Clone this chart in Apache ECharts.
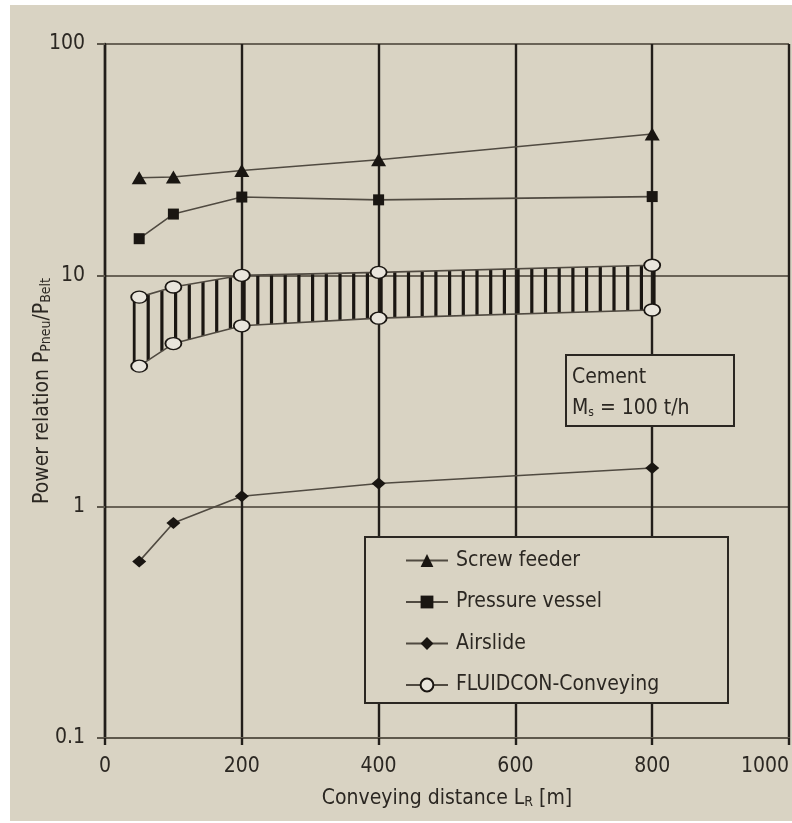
<!DOCTYPE html>
<html>
<head>
<meta charset="utf-8">
<script src="https://cdn.jsdelivr.net/npm/echarts@6/dist/echarts.min.js"></script>
<style>
  html, body { margin: 0; padding: 0; background: #ffffff; }
  #chart { width: 792px; height: 823px; }
</style>
</head>
<body>
<div id="chart"></div>
<script>
// conveying distance [m]
const distances = [50, 100, 200, 400, 800];
const screwFeeder = [26.4, 26.6, 28.4, 31.6, 40.8];
const pressureVessel = [14.4, 18.4, 21.8, 21.2, 21.9];
const airslide = [0.58, 0.85, 1.11, 1.26, 1.47];
const fluidconUpper = [8.05, 8.9, 10.0, 10.3, 11.05];
const fluidconLower = [4.05, 5.07, 6.05, 6.53, 7.08];
const xTicks = [0, 200, 400, 600, 800, 1000];
const yTicks = ['0.1', '1', '10', '100'];

const FONT = "'DejaVu Sans Condensed', 'Liberation Sans Narrow', 'Liberation Sans', sans-serif";
const INK = '#2b2722';
const BG = '#d9d3c3';
const LINE = '#504a41';

function pairs(xs, ys) {
    const out = [];
    for (let i = 0; i < xs.length; i++) out.push([xs[i], ys[i]]);
    return out;
}

// one row per segment of the FLUIDCON band
const bandRows = [];
for (let i = 0; i < distances.length - 1; i++) {
    bandRows.push([distances[i], fluidconUpper[i], fluidconLower[i],
                   distances[i + 1], fluidconUpper[i + 1], fluidconLower[i + 1], i]);
}

const myChart = echarts.init(document.getElementById('chart'));

function renderHatch(params, api) {
    const a1 = api.coord([api.value(0), api.value(1)]);
    const a2 = api.coord([api.value(0), api.value(2)]);
    const b1 = api.coord([api.value(3), api.value(4)]);
    const b2 = api.coord([api.value(3), api.value(5)]);
    const idx = api.value(6);
    const start = api.coord([distances[0], fluidconUpper[0]])[0] + 9;
    const step = 13.7;
    const last = idx === distances.length - 2;
    const children = [];
    let k = Math.ceil((a1[0] - start) / step - 1e-6);
    if (k < 0) k = 0;
    for (;; k++) {
        const px = start + k * step;
        if (px > b1[0] - (last ? 6 : 0)) break;
        const t = (px - a1[0]) / (b1[0] - a1[0]);
        const yt = a1[1] + t * (b1[1] - a1[1]);
        const yb = a2[1] + t * (b2[1] - a2[1]);
        children.push({
            type: 'line',
            shape: {x1: px, y1: yt, x2: px, y2: yb},
            style: {stroke: '#1a1612', lineWidth: 3.2}
        });
    }
    if (idx === 0) {
        children.push({
            type: 'line',
            shape: {x1: a1[0] - 5, y1: a1[1], x2: a2[0] - 5, y2: a2[1]},
            style: {stroke: '#1a1612', lineWidth: 2.8}
        });
    }
    if (last) {
        children.push({
            type: 'line',
            shape: {x1: b1[0] + 2, y1: b1[1], x2: b2[0] + 2, y2: b2[1]},
            style: {stroke: '#1a1612', lineWidth: 2.8}
        });
    }
    return {type: 'group', children: children};
}

const lineSeries = (name, ys, symbol, size, fill) => ({
    name: name,
    type: 'line',
    data: pairs(distances, ys),
    symbol: symbol,
    symbolSize: size,
    z: 5,
    lineStyle: {color: LINE, width: 1.6},
    itemStyle: {color: fill, borderColor: '#1a1612', borderWidth: fill === '#1a1612' ? 0 : 1.6},
    emphasis: {disabled: true},
    animation: false
});

const richName = {
    a: {color: INK, fontFamily: FONT, fontSize: 21, lineHeight: 24, verticalAlign: 'bottom'},
    s: {color: INK, fontFamily: FONT, fontSize: 14, lineHeight: 12, verticalAlign: 'bottom'}
};

myChart.setOption({
    backgroundColor: '#ffffff',
    animation: false,
    grid: {left: 105, right: 3, top: 44, bottom: 85, containLabel: false, outerBoundsMode: 'none'},
    graphic: [
        {
            type: 'rect', silent: true, z: -100,
            shape: {x: 10, y: 5, width: 782, height: 816},
            style: {fill: BG}
        },
        {
            type: 'rect', silent: true, z: 50,
            shape: {x: 566, y: 355, width: 168, height: 71},
            style: {fill: BG, stroke: INK, lineWidth: 2}
        },
        {
            type: 'text', silent: true, z: 51,
            x: 572, y: 357,
            style: {
                text: '{a|Cement}\n{a|M}{s|s}{a| = 100 t/h}',
                fill: INK,
                font: '21px ' + FONT,
                rich: {
                    a: {fontSize: 21, fontFamily: FONT, lineHeight: 31, verticalAlign: 'bottom', fill: INK},
                    s: {fontSize: 12, fontFamily: FONT, lineHeight: 15, verticalAlign: 'bottom', fill: INK}
                }
            }
        },
        {
            type: 'rect', silent: true, z: 50,
            shape: {x: 365, y: 537, width: 363, height: 166},
            style: {fill: BG, stroke: INK, lineWidth: 2}
        }
    ],
    legend: {
        orient: 'vertical',
        left: 400,
        top: 545,
        z: 60,
        itemWidth: 42,
        itemHeight: 16,
        itemGap: 20.5,
        selectedMode: false,
        data: ['Screw feeder', 'Pressure vessel', 'Airslide', 'FLUIDCON-Conveying'],
        textStyle: {fontFamily: FONT, fontSize: 21, color: INK, lineHeight: 18, padding: [0, 0, 0, 3]}
    },
    xAxis: {
        type: 'value',
        min: 0,
        max: 1000,
        interval: 200,
        name: '{a|Conveying distance L}{s|R}{a| [m]}',
        nameLocation: 'middle',
        nameGap: 47,
        nameMoveOverlap: false,
        nameTextStyle: {color: INK, fontFamily: FONT, fontSize: 21, rich: richName},
        axisLine: {show: true, lineStyle: {color: '#5e584c', width: 2}},
        axisTick: {show: true, inside: false, length: 7, lineStyle: {color: '#221e1a', width: 2.4}},
        axisLabel: {
            color: INK, fontFamily: FONT, fontSize: 21, margin: 18,
            alignMaxLabel: 'right',
            formatter: v => xTicks.includes(v) ? String(v) : ''
        },
        splitLine: {show: true, lineStyle: {color: '#221e1a', width: 2.4}}
    },
    yAxis: {
        type: 'log',
        logBase: 10,
        min: 0.1,
        max: 100,
        name: '{a|Power relation P}{s|Pneu}{a|/P}{s|Belt}',
        nameLocation: 'middle',
        nameRotate: 90,
        nameGap: 52,
        nameMoveOverlap: false,
        nameTextStyle: {color: INK, fontFamily: FONT, fontSize: 21, rich: richName},
        axisLine: {show: true, lineStyle: {color: '#221e1a', width: 2.4}},
        axisTick: {show: true, inside: false, length: 8, lineStyle: {color: '#5e584c', width: 2}},
        axisLabel: {
            color: INK, fontFamily: FONT, fontSize: 21, margin: 20,
            formatter: v => {
                const s = v < 1 ? v.toFixed(1) : String(Math.round(v));
                return yTicks.includes(s) ? s : '';
            }
        },
        splitLine: {show: true, lineStyle: {color: '#6a6357', width: 2}}
    },
    series: [
        {
            name: 'FLUIDCON hatch',
            type: 'custom',
            renderItem: renderHatch,
            data: bandRows,
            encode: {x: [0, 3], y: [1, 2, 4, 5]},
            z: 3,
            silent: true,
            animation: false
        },
        lineSeries('Screw feeder', screwFeeder, 'triangle', [15, 13], '#1a1612'),
        lineSeries('Pressure vessel', pressureVessel, 'rect', 11, '#1a1612'),
        lineSeries('Airslide', airslide, 'diamond', [14, 12], '#1a1612'),
        lineSeries('FLUIDCON-Conveying', fluidconUpper, 'circle', [16, 12], '#e9e5dc'),
        lineSeries('FLUIDCON-Conveying', fluidconLower, 'circle', [16, 12], '#e9e5dc')
    ]
});
</script>
</body>
</html>
